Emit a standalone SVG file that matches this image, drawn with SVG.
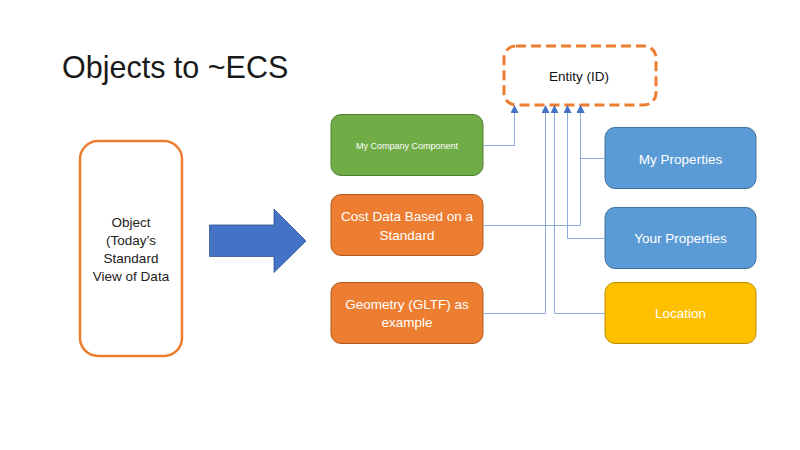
<svg xmlns="http://www.w3.org/2000/svg" width="800" height="450" viewBox="0 0 800 450">
<style>
.t{font-family:"Liberation Sans",Arial,sans-serif;text-anchor:middle;dominant-baseline:central}
.w{fill:#ffffff;font-size:13.5px}
.c{fill:none;stroke:#8FAADC;stroke-width:1}
</style>
<defs>
<marker id="ah" viewBox="0 0 8 8" refX="7" refY="4" markerWidth="8" markerHeight="8" markerUnits="userSpaceOnUse" orient="auto">
<path d="M0,0 L8,4 L0,8 Z" fill="#4472C4"/>
</marker>
</defs>
<rect width="800" height="450" fill="#ffffff"/>
<text x="62" y="78" style="font-family:'Liberation Sans',Arial,sans-serif;font-size:30.5px;fill:#1a1a1a">Objects to ~ECS</text>

<g id="object">
<rect x="80" y="141" width="102" height="215" rx="18" fill="#ffffff" stroke="#ED7D31" stroke-width="2.5"/>
<text class="t" x="131" y="222" style="font-size:13.5px;fill:#222">Object</text>
<text class="t" x="131" y="240" style="font-size:13.5px;fill:#222">(Today’s</text>
<text class="t" x="131" y="258" style="font-size:13.5px;fill:#222">Standard</text>
<text class="t" x="131" y="276" style="font-size:13.5px;fill:#222">View of Data</text>
</g>

<g id="bigarrow">
<path d="M209.5,225 H274 V209 L306,241 L274,272.5 V256.5 H209.5 Z" fill="#4472C4" stroke="#2F528F" stroke-width="0.8"/>
</g>

<g id="entity">
<rect x="504" y="46" width="152" height="59" rx="12" fill="#ffffff" stroke="#ED7D31" stroke-width="3" stroke-dasharray="10,5"/>
<text class="t" x="579" y="76" style="font-size:13.5px;fill:#111">Entity (ID)</text>
</g>

<g id="company">
<rect x="331" y="114.5" width="152" height="61" rx="10" fill="#70AD47" stroke="#507E32" stroke-width="1"/>
<text class="t" x="407" y="146" style="font-size:9px;fill:#ffffff">My Company Component</text>
</g>

<g id="cost">
<rect x="331" y="194.5" width="152" height="61" rx="10" fill="#ED7D31" stroke="#AE5A21" stroke-width="1"/>
<text class="t w" x="407" y="216.5">Cost Data Based on a</text>
<text class="t w" x="407" y="235">Standard</text>
</g>

<g id="geometry">
<rect x="331" y="282.5" width="152" height="61" rx="10" fill="#ED7D31" stroke="#AE5A21" stroke-width="1"/>
<text class="t w" x="407" y="304.5">Geometry (GLTF) as</text>
<text class="t w" x="407" y="322.5">example</text>
</g>

<g id="myprops">
<rect x="605" y="127.5" width="151" height="61" rx="10" fill="#5B9BD5" stroke="#41719C" stroke-width="1"/>
<text class="t w" x="680.5" y="159">My Properties</text>
</g>

<g id="yourprops">
<rect x="605" y="207.5" width="151" height="61" rx="10" fill="#5B9BD5" stroke="#41719C" stroke-width="1"/>
<text class="t w" x="680.5" y="238.5">Your Properties</text>
</g>

<g id="location">
<rect x="605" y="282.5" width="151" height="61" rx="10" fill="#FFC000" stroke="#BC8C00" stroke-width="1"/>
<text class="t w" x="680.5" y="313.5">Location</text>
</g>

<g id="connectors">
<path class="c" d="M483,145.5 H514.5 V106" marker-end="url(#ah)"/>
<path class="c" d="M483,225.5 H580.5 V106" marker-end="url(#ah)"/>
<path class="c" d="M605,158.5 H580.5 V106" marker-end="url(#ah)"/>
<path class="c" d="M605,238.5 H567.5 V106" marker-end="url(#ah)"/>
<path class="c" d="M483,313.5 H545.5 V106" marker-end="url(#ah)"/>
<path class="c" d="M605,313.5 H554.5 V106" marker-end="url(#ah)"/>
</g>
</svg>
